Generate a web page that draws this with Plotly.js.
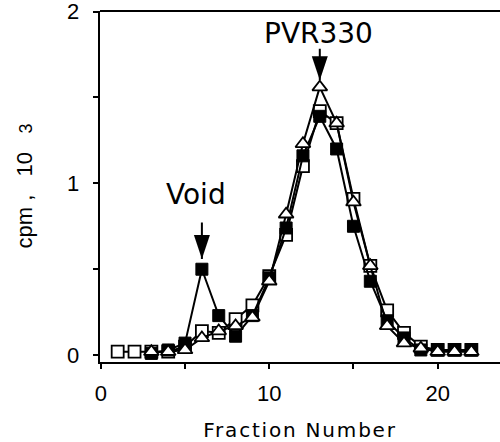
<!DOCTYPE html>
<html>
<head>
<meta charset="utf-8">
<script src="https://cdn.plot.ly/plotly-3.0.1.min.js"></script>
<style>
html,body{margin:0;padding:0;background:#fff;}
#chart{width:500px;height:442px;}
.xtitle{letter-spacing:1.8px;}
</style>
</head>
<body>
<div id="chart"></div>
<script>
// Fraction numbers
const fractionsOpenSq = [1,2,3,4,5,6,7,8,9,10,11,12,13,14,15,16,17,18,19,20,21,22];
const fractionsFilled = [3,4,5,6,7,8,9,10,11,12,13,14,15,16,17,18,19,20,21,22];
const fractionsTri    = [3,4,5,6,7,8,9,10,11,12,13,14,15,16,17,18,19,20,21,22];
// cpm x 10^3
const openSquareCpm = [0.02,0.02,0.02,0.02,0.05,0.14,0.13,0.21,0.29,0.46,0.70,1.10,1.42,1.35,0.91,0.52,0.26,0.13,0.05,0.03,0.03,0.03];
const filledSquareCpm = [0.01,0.03,0.07,0.50,0.23,0.11,0.23,0.45,0.74,1.16,1.39,1.20,0.75,0.43,0.20,0.10,0.03,0.03,0.03,0.03];
const triangleCpm = [0.02,0.02,0.03,0.10,0.14,0.17,0.22,0.43,0.82,1.23,1.56,1.35,0.89,0.52,0.17,0.07,0.04,0.02,0.02,0.02];
// annotations
const markerLabels = ['Void','PVR330'];
const markerX = [6,13];
const markerTipY = [0.56,1.60];
// axis labels
const yTickVals = [0,1,2];
const yTickText = ['0','1','2'];
const yTitle = 'cpm\u00A0,\u00A0\u00A0\u00A010\u00A0\u00A0\u00A0<span style="font-size:18px">3</span>';
const xTitle = 'Fraction Number';

const lineStyle = {color:'black', width:2};
const traces = [
  {x:fractionsOpenSq, y:openSquareCpm, mode:'lines+markers', line:lineStyle,
   marker:{symbol:'square', size:12, color:'white', line:{color:'black', width:1.8}}},
  {x:fractionsFilled, y:filledSquareCpm, mode:'lines+markers', line:lineStyle,
   marker:{symbol:'square', size:12, color:'black', line:{color:'black', width:1}}},
  {x:fractionsTri, y:triangleCpm, mode:'lines+markers', line:lineStyle,
   marker:{symbol:'triangle-up', size:13, color:'white', line:{color:'black', width:1.8}}}
];

const textOffsets = [{ax:-6, ay:-64, stem:-38}, {ax:-1, ay:-47, stem:-33}];
const annotations = [];
const shapes = [];
markerLabels.forEach((lab,i)=>{
  annotations.push({x:markerX[i], y:markerTipY[i], xref:'x', yref:'y', text:lab, showarrow:false,
    xshift:textOffsets[i].ax, yshift:-textOffsets[i].ay,
    font:{family:'DejaVu Sans', size:28, color:'black'}});
  annotations.push({x:markerX[i], y:markerTipY[i], xref:'x', yref:'y', text:'', showarrow:true,
    arrowhead:0, arrowwidth:2, arrowcolor:'black', ax:0, ay:textOffsets[i].stem});
  shapes.push({type:'path', xref:'x', yref:'y', xsizemode:'pixel', ysizemode:'pixel',
    xanchor:markerX[i], yanchor:markerTipY[i], path:'M-8,24 L8,24 L0,0 Z',
    fillcolor:'black', line:{width:0}});
});
// y tick labels placed against the y axis scale
yTickVals.forEach((v,i)=>{
  annotations.push({x:0, xref:'paper', y:v, yref:'y', text:yTickText[i], showarrow:false,
    xanchor:'right', yanchor:'middle', xshift:-19, font:{family:'Liberation Sans', size:22, color:'black'}});
});
// y axis title
annotations.push({x:-0.19, xref:'paper', y:0.5, yref:'paper', text:yTitle, textangle:-90, showarrow:false,
  xanchor:'center', yanchor:'middle', font:{family:'Liberation Sans', size:22, color:'black'}});
shapes.push({type:'line', xref:'paper', yref:'paper', x0:0, x1:1, y0:1, y1:1, line:{color:'black', width:2}});

const layout = {
  width:500, height:442,
  margin:{l:100, r:0, t:11, b:80},
  paper_bgcolor:'white', plot_bgcolor:'white',
  showlegend:false,
  xaxis:{range:[-0.05,23.7], showline:true, linewidth:2, linecolor:'black', ticks:'outside', ticklen:5, tickwidth:2,
    tickcolor:'black', tickmode:'linear', tick0:0, dtick:10,
    minor:{tickmode:'linear', tick0:0, dtick:5, ticks:'outside', ticklen:5, tickwidth:2, tickcolor:'black', showgrid:false},
    showgrid:false, zeroline:false,
    tickfont:{family:'Liberation Sans', size:22, color:'black'}, ticklabelstandoff:6, ticklabeloverflow:'allow',
    title:{text:xTitle, font:{family:'DejaVu Sans', size:20, color:'black'}, standoff:18}},
  yaxis:{range:[-0.04,2.003], showline:true, linewidth:2, linecolor:'black', ticks:'outside', ticklen:5, tickwidth:2,
    tickcolor:'black', tickmode:'linear', tick0:0, dtick:1,
    minor:{tickmode:'linear', tick0:0, dtick:0.5, ticks:'outside', ticklen:5, tickwidth:2, tickcolor:'black', showgrid:false},
    showgrid:false, zeroline:false, showticklabels:false},
  annotations:annotations,
  shapes:shapes
};
Plotly.newPlot('chart', traces, layout, {staticPlot:true, displayModeBar:false});
</script>
</body>
</html>
